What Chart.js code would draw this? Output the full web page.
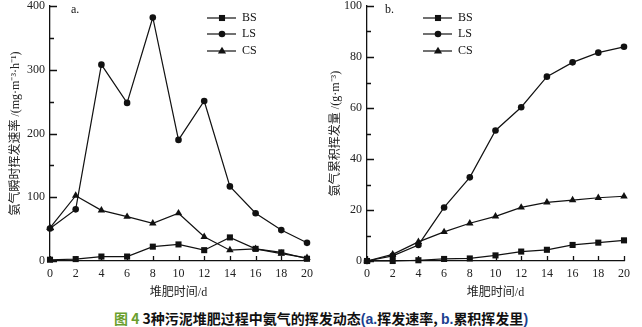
<!DOCTYPE html>
<html>
<head>
<meta charset="utf-8">
<script src="https://cdn.jsdelivr.net/npm/chart.js@4/dist/chart.umd.min.js"></script>
<style>
  body { margin: 0; background: #fff; width: 642px; height: 327px; overflow: hidden; position: relative; }
  #rate { position: absolute; left: 0; top: 0; }
  #cum { position: absolute; left: 320px; top: 0; }
  #caption { position: absolute; left: 0; top: 308px; width: 642px; text-align: center;
    font: bold 14px "Noto Sans CJK SC", sans-serif; color: #111; line-height: 20px; }
  #caption .fig { color: #6a9f2e; }
  #caption .blue { color: #1b3f8f; font-family: "Liberation Sans", Arial, sans-serif; }
</style>
</head>
<body>
<canvas id="rate" width="320" height="300"></canvas>
<canvas id="cum" width="322" height="300"></canvas>
<div id="caption"><span class="fig">图 4 </span>3种污泥堆肥过程中氨气的挥发动态<span class="blue">(a.</span>挥发速率, <span class="blue">b.</span>累积挥发里<span class="blue">)</span></div>
<script>
// composting days
const days = [0, 2, 4, 6, 8, 10, 12, 14, 16, 18, 20];
const seriesNames = ['BS', 'LS', 'CS'];
const markers = ['rect', 'circle', 'triangle'];
const markerSize = [4.3, 3.3, 4.3];

// a. instantaneous NH3 volatilisation rate, mg·m-3·h-1
const rateBS = [2, 3, 7, 7, 22.5, 26, 17, 37, 19, 13.5, 3.5];
const rateLS = [51, 81, 308, 248, 382, 190, 251, 117, 75, 48.5, 28.5];
const rateCS = [52, 102.5, 79.5, 69.5, 59, 75, 38, 17, 19, 11.5, 5];

// b. cumulative NH3 volatilisation, g·m-3
const cumBS = [0, 0, 0.3, 0.8, 1, 2.2, 3.7, 4.4, 6.3, 7.2, 8.1];
const cumLS = [0, 2, 6.3, 21, 32.8, 51.2, 60.3, 72.3, 77.9, 81.7, 84];
const cumCS = [0, 2.6, 7.5, 11.4, 14.8, 17.5, 21, 23, 23.9, 24.8, 25.4];

const xTitle = '堆肥时间/d';
const rateTitle = '氨气瞬时挥发速率 /(mg·m⁻³·h⁻¹)';
const cumTitle = '氨气累积挥发量 /(g·m⁻³)';

const serif = '"Liberation Serif", "Times New Roman", "Noto Sans CJK SC", serif';
const ink = '#111';

function drawMarker(ctx, style, r, x, y) {
  ctx.beginPath();
  if (style === 'rect') {
    const s = r * Math.SQRT1_2;
    ctx.rect(x - s, y - s, 2 * s, 2 * s);
  } else if (style === 'circle') {
    ctx.arc(x, y, r, 0, Math.PI * 2);
  } else {
    ctx.moveTo(x, y - r);
    ctx.lineTo(x + r * 0.95, y + r * 0.6);
    ctx.lineTo(x - r * 0.95, y + r * 0.6);
    ctx.closePath();
  }
  ctx.fill();
}

// inward tick marks, legend and panel letter
const decorations = {
  id: 'decorations',
  afterDraw(chart, args, opts) {
    const ctx = chart.ctx;
    const xs = chart.scales.x, ys = chart.scales.y;
    ctx.save();
    ctx.strokeStyle = ink;
    ctx.lineWidth = 1.3;
    ctx.beginPath();
    xs.ticks.forEach(t => {
      const px = Math.round(xs.getPixelForValue(t.value)) + 0.5;
      ctx.moveTo(px, ys.bottom);
      ctx.lineTo(px, ys.bottom - 5);
    });
    ys.ticks.forEach(t => {
      const py = Math.round(ys.getPixelForValue(t.value)) + 0.5;
      const len = (t.value % opts.major === 0) ? 7 : 4;
      ctx.moveTo(xs.left, py);
      ctx.lineTo(xs.left + len, py);
    });
    ctx.stroke();

    // legend
    ctx.font = '12px ' + serif;
    ctx.textBaseline = 'middle';
    ctx.fillStyle = ink;
    chart.data.datasets.forEach((ds, i) => {
      const y = opts.legendY[i];
      const x = opts.legendX;
      ctx.beginPath();
      ctx.lineWidth = 1.2;
      ctx.moveTo(x, y);
      ctx.lineTo(x + 29, y);
      ctx.stroke();
      drawMarker(ctx, ds.pointStyle, ds.pointRadius, x + 15, y);
      ctx.fillText(ds.label, x + 35, y);
    });

    ctx.fillText(opts.tag, opts.tagX, 10);
    ctx.restore();
  }
};

function makeChart(id, series, cfg) {
  const datasets = series.map((vals, i) => ({
    label: seriesNames[i],
    data: days.map((d, k) => ({ x: d, y: vals[k] })),
    borderColor: ink,
    backgroundColor: ink,
    borderWidth: 1.2,
    pointStyle: markers[i],
    pointRadius: markerSize[i],
    pointBorderWidth: 0,
    pointBackgroundColor: ink,
    tension: 0,
    clip: false
  }));
  return new Chart(document.getElementById(id), {
    type: 'line',
    data: { datasets },
    options: {
      responsive: false,
      animation: false,
      layout: { padding: { top: 6, right: cfg.padRight, left: 0, bottom: 0 } },
      plugins: {
        legend: { display: false },
        tooltip: { enabled: false },
        decorations: { major: cfg.major, legendX: cfg.legendX, legendY: [18, 34, 51], tag: cfg.tag, tagX: cfg.tagX }
      },
      scales: {
        x: {
          type: 'linear', min: 0, max: 20,
          grid: { display: false, drawTicks: false },
          border: { display: true, color: ink, width: 1.3 },
          ticks: { stepSize: 2, color: '#222', padding: 6, font: { family: serif, size: 12 } },
          title: { display: true, text: xTitle, color: '#222', font: { family: serif, size: 12 }, padding: { top: 3, bottom: 0 } },
          afterFit: s => { s.height = 39; s.paddingLeft = 0; s.paddingRight = 0; }
        },
        y: {
          min: 0, max: cfg.yMax,
          grid: { display: false, drawTicks: false },
          border: { display: true, color: ink, width: 1.3 },
          ticks: {
            stepSize: cfg.minor, color: '#222', padding: 5, font: { family: serif, size: 12 },
            callback: v => (v % cfg.major === 0 ? v : '')
          },
          title: { display: true, text: cfg.yTitle, color: '#222', font: { family: serif, size: 12 }, padding: { top: 9, bottom: 0 } },
          afterFit: s => { s.width = cfg.yWidth; s.paddingTop = 0; s.paddingBottom = 0; }
        }
      }
    },
    plugins: [decorations]
  });
}

makeChart('rate', [rateBS, rateLS, rateCS], {
  yMax: 400, major: 100, minor: 50, yTitle: rateTitle, yWidth: 50, padRight: 13,
  legendX: 207, tag: 'a.', tagX: 71
});
makeChart('cum', [cumBS, cumLS, cumCS], {
  yMax: 100, major: 20, minor: 10, yTitle: cumTitle, yWidth: 47, padRight: 18,
  legendX: 103, tag: 'b.', tagX: 65
});
</script>
</body>
</html>
